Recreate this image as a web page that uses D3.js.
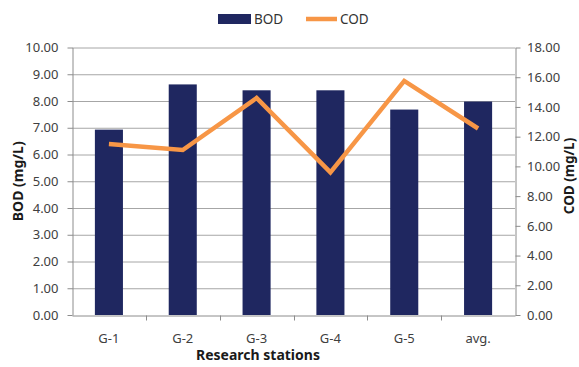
<!DOCTYPE html>
<html><head><meta charset="utf-8">
<script src="https://cdn.jsdelivr.net/npm/d3@7"></script>
<style>body{margin:0;background:#fff}svg{display:block}</style>
</head><body><svg id="c" width="579" height="367"></svg>
<script>
const categories = ["G-1","G-2","G-3","G-4","G-5","avg."];
const bodValues = [6.93, 8.62, 8.40, 8.40, 7.68, 7.98];
const codValues = [11.5, 11.1, 14.6, 9.6, 15.75, 12.55];
const leftTicks = [0,1,2,3,4,5,6,7,8,9,10];
const rightTicks = [0,2,4,6,8,10,12,14,16,18];

const svg = d3.select("#c");
const m = {l:72, r:515, t:47.5, b:315};
const font = "'Noto Sans', sans-serif";
const x = d3.scaleBand().domain(categories).range([m.l, m.r]).paddingInner(0.62).paddingOuter(0.31);
const yL = d3.scaleLinear().domain([0,10]).range([m.b, m.t]);
const yR = d3.scaleLinear().domain([0,18]).range([m.b, m.t]);
const xb = d3.scaleBand().domain(categories).range([m.l, m.r]);

// gridlines
svg.append("g").selectAll("line").data(leftTicks.slice(1)).join("line")
  .attr("x1", m.l).attr("x2", m.r).attr("y1", d=>yL(d)+0.5).attr("y2", d=>yL(d)+0.5)
  .attr("stroke", "#a6a6a6").attr("stroke-width", 1);

// bars
svg.append("g").selectAll("rect").data(categories).join("rect")
  .attr("x", d=>x(d)).attr("width", x.bandwidth())
  .attr("y", (d,i)=>yL(bodValues[i])).attr("height", (d,i)=>m.b - yL(bodValues[i]))
  .attr("fill", "#1f2760");

// left axis
const gL = svg.append("g").attr("transform", `translate(${m.l+0.5},0)`)
  .call(d3.axisLeft(yL).tickValues(leftTicks).tickFormat(d3.format(".2f")).tickSize(5).tickSizeOuter(0));
// right axis
const gR = svg.append("g").attr("transform", `translate(${m.r+0.5},0)`)
  .call(d3.axisRight(yR).tickValues(rightTicks).tickFormat(d3.format(".2f")).tickSize(5).tickSizeOuter(0));
[gL, gR].forEach(g => {
  g.select(".domain").attr("stroke", "#8c8c8c");
  g.selectAll(".tick line").attr("stroke", "#8c8c8c");
  g.selectAll(".tick text").attr("font-family", font).attr("font-size", 13).attr("fill", "#404040");
});
gL.selectAll(".tick text").attr("x", -14);
gR.selectAll(".tick text").attr("x", 11.5);

// bottom axis
const gB = svg.append("g").attr("transform", `translate(0,${m.b+0.5})`)
  .call(d3.axisBottom(xb).tickSize(0).tickPadding(18));
gB.select(".domain").attr("stroke", "#8c8c8c");
gB.selectAll(".tick text").attr("font-family", font).attr("font-size", 13).attr("fill", "#404040");
gB.selectAll("line.sep").data(categories.slice(1)).join("line").attr("class","sep")
  .attr("x1", d=>Math.round(xb(d))+0.5).attr("x2", d=>Math.round(xb(d))+0.5)
  .attr("y1", 0).attr("y2", 5).attr("stroke", "#8c8c8c");

// COD line
const line = d3.line().x((d,i)=>x(categories[i]) + x.bandwidth()/2).y(d=>yR(d));
svg.append("path").datum(codValues).attr("d", line)
  .attr("fill", "none").attr("stroke", "#f79646").attr("stroke-width", 4.5)
  .attr("stroke-linejoin", "miter");

// axis titles
svg.append("text").attr("transform", `translate(23,${(m.t+m.b)/2}) rotate(-90)`)
  .attr("text-anchor","middle").attr("font-family", font).attr("font-weight","bold")
  .attr("font-size", 14).attr("fill","#1a1a1a").text("BOD (mg/L)");
svg.append("text").attr("transform", `translate(574,176) rotate(-90)`)
  .attr("text-anchor","middle").attr("font-family", font).attr("font-weight","bold")
  .attr("font-size", 13.5).attr("fill","#1a1a1a").text("COD (mg/L)");
svg.append("text").attr("x", 258).attr("y", 360)
  .attr("text-anchor","middle").attr("font-family", font).attr("font-weight","bold")
  .attr("font-size", 14).attr("fill","#1a1a1a").text("Research stations");

// legend
const lg = svg.append("g");
lg.append("rect").attr("x", 218).attr("y", 14).attr("width", 33).attr("height", 10).attr("fill", "#1f2760");
lg.append("text").attr("x", 254).attr("y", 23.5).attr("font-family", font).attr("font-size", 13.5)
  .attr("fill","#333").text("BOD");
lg.append("line").attr("x1", 306).attr("x2", 337).attr("y1", 19).attr("y2", 19)
  .attr("stroke", "#f79646").attr("stroke-width", 4.5);
lg.append("text").attr("x", 340).attr("y", 23.5).attr("font-family", font).attr("font-size", 13.5)
  .attr("fill","#333").text("COD");
</script></body></html>
